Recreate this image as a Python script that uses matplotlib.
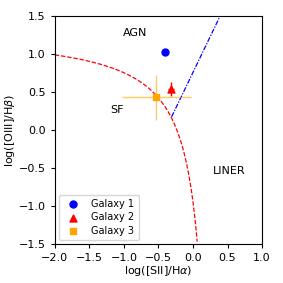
import numpy as np
import matplotlib
matplotlib.use("Agg")
import matplotlib.pyplot as plt

# data
names = ["Galaxy 1", "Galaxy 2", "Galaxy 3"]
x_sii = [-0.40, -0.32, -0.53]
y_oiii = [1.03, 0.54, 0.43]
x_err = [0.0, 0.04, 0.50]
y_err = [0.0, 0.09, 0.30]
colors = ["blue", "red", "orange"]
markers = ["o", "^", "s"]

fig = plt.figure(figsize=(2.83, 2.83), dpi=100)
ax = fig.add_axes([0.194, 0.138, 0.732, 0.805])

# Kewley 2001 maximum starburst line
xk = np.linspace(-2.0, 0.06, 300)
yk = 0.72 / (xk - 0.32) + 1.30
ax.plot(xk, yk, color="red", ls=(0, (3.5, 1.5)), lw=0.9)

# Seyfert / LINER line
xs = np.linspace(-0.31, 0.40, 100)
ys = 1.89 * xs + 0.76
ax.plot(xs, ys, color="blue", ls=(0, (4, 1.2, 1, 1.2)), lw=0.9)

for i in range(3):
    if x_err[i] > 0 or y_err[i] > 0:
        ax.errorbar(x_sii[i], y_oiii[i], xerr=x_err[i], yerr=y_err[i],
                    fmt="none", ecolor=colors[i], alpha=0.6 if i == 2 else 1.0,
                    lw=1.0)
    ax.scatter(x_sii[i], y_oiii[i], color=colors[i], marker=markers[i],
               s=25, label=names[i], zorder=3)

ax.text(-0.84, 1.28, "AGN", fontsize=8, ha="center", va="center")
ax.text(-1.10, 0.27, "SF", fontsize=8, ha="center", va="center")
ax.text(0.52, -0.54, "LINER", fontsize=8, ha="center", va="center")

ax.set_xlim(-2.0, 1.0)
ax.set_ylim(-1.5, 1.5)
ax.set_xticks(np.arange(-2.0, 1.01, 0.5))
ax.set_yticks(np.arange(-1.5, 1.51, 0.5))
ax.tick_params(labelsize=8, length=3)
ax.set_xlabel(r"log([SII]/H$\alpha$)", fontsize=8, labelpad=1)
ax.set_ylabel(r"log([OIII]/H$\beta$)", fontsize=8, labelpad=1)
ax.legend(loc="lower left", fontsize=7, handletextpad=0.9, borderpad=0.45,
          labelspacing=0.35, borderaxespad=0.4)

fig.savefig("out.png", dpi=100)
